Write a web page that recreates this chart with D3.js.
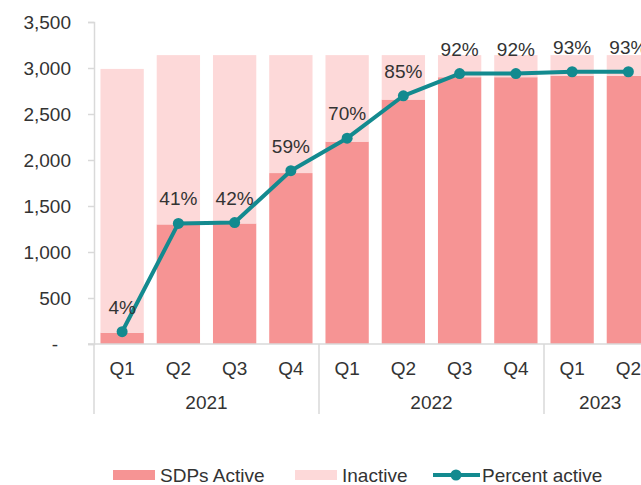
<!DOCTYPE html>
<html>
<head>
<meta charset="utf-8">
<script src="https://cdn.jsdelivr.net/npm/d3@7"></script>
<style>
    body { margin: 0; background: #fff; }
    svg { display: block; font-family: "Liberation Sans", Arial, sans-serif; }
</style>
</head>
<body>
<svg id="chart"></svg>
<script>
// Data
const quarters = ["Q1", "Q2", "Q3", "Q4", "Q1", "Q2", "Q3", "Q4", "Q1", "Q2"];
const years = ["2021", "2021", "2021", "2021", "2022", "2022", "2022", "2022", "2023", "2023"];
const active = [123, 1300, 1310, 1858, 2200, 2657, 2900, 2900, 2915, 2915];
const inactive = [2867, 1840, 1830, 1282, 940, 483, 240, 240, 225, 225];
const percentActive = [0.042, 0.412, 0.415, 0.592, 0.703, 0.848, 0.924, 0.924, 0.93, 0.93];
const yTicks = [0, 500, 1000, 1500, 2000, 2500, 3000, 3500];

const colors = {
    active: "#F69494",
    inactive: "#FDD9D9",
    line: "#138A8F",
    axis: "#D9D9D9",
    text: "#333333",
};

const width = 641;
const height = 485;
const svg = d3.select("#chart").attr("width", width).attr("height", height);

const keys = quarters.map((q, i) => years[i] + "-" + q);
const rows = keys.map((k, i) => ({ key: k, active: active[i], inactive: inactive[i], pct: percentActive[i] }));

// Scales
const x = d3.scaleBand().domain(keys).range([94, 656.5]).paddingInner(0.23).paddingOuter(0.115);
const y = d3.scaleLinear().domain([0, 3500]).range([344, 22]);
const yPct = d3.scaleLinear().domain([0, 1.1]).range([344, 22]);

// Stacked bars
const stack = d3.stack().keys(["active", "inactive"])(rows);
svg.append("g")
    .selectAll("g")
    .data(stack)
    .join("g")
    .attr("fill", (d) => colors[d.key])
    .selectAll("rect")
    .data((d) => d)
    .join("rect")
    .attr("x", (d) => x(d.data.key))
    .attr("width", x.bandwidth())
    .attr("y", (d) => y(d[1]))
    .attr("height", (d) => y(d[0]) - y(d[1]));

// Y axis
const yAxis = svg.append("g")
    .attr("transform", "translate(94,0)")
    .call(d3.axisLeft(y).tickValues(yTicks).tickSize(6).tickPadding(17)
        .tickFormat((d) => (d === 0 ? "-" : d3.format(",")(d))));
yAxis.select(".domain").attr("stroke", colors.axis).attr("stroke-width", 1.5);
yAxis.selectAll(".tick line").attr("stroke", colors.axis).attr("stroke-width", 1.5);
yAxis.selectAll(".tick text")
    .attr("fill", colors.text)
    .attr("font-size", 19)
    .attr("dx", (d) => (d === 0 ? -13 : 0));

// X axis baseline
svg.append("line")
    .attr("x1", 88).attr("x2", width)
    .attr("y1", y(0)).attr("y2", y(0))
    .attr("stroke", colors.axis).attr("stroke-width", 1.5);

// Quarter labels
svg.append("g")
    .selectAll("text")
    .data(rows)
    .join("text")
    .attr("x", (d) => x(d.key) + x.bandwidth() / 2)
    .attr("y", 375)
    .attr("text-anchor", "middle")
    .attr("fill", colors.text)
    .attr("font-size", 19)
    .text((d, i) => quarters[i]);

// Year groups
const yearGroups = d3.groups(keys, (k) => k.split("-")[0]).map(([yr, ks]) => ({
    year: yr,
    x0: x(ks[0]) - (x.step() * x.paddingInner()) / 2,
    x1: x(ks[ks.length - 1]) + x.bandwidth() + (x.step() * x.paddingInner()) / 2,
}));

svg.append("g")
    .selectAll("line")
    .data(yearGroups)
    .join("line")
    .attr("x1", (d) => d.x0).attr("x2", (d) => d.x0)
    .attr("y1", y(0)).attr("y2", 414)
    .attr("stroke", colors.axis).attr("stroke-width", 1.5);

svg.append("g")
    .selectAll("text")
    .data(yearGroups)
    .join("text")
    .attr("x", (d) => (d.x0 + d.x1) / 2)
    .attr("y", 409)
    .attr("text-anchor", "middle")
    .attr("fill", colors.text)
    .attr("font-size", 19)
    .text((d) => d.year);

// Percent line
const cx = (d) => x(d.key) + x.bandwidth() / 2;
svg.append("path")
    .datum(rows)
    .attr("fill", "none")
    .attr("stroke", colors.line)
    .attr("stroke-width", 4)
    .attr("stroke-linejoin", "round")
    .attr("d", d3.line().x(cx).y((d) => yPct(d.pct)));

svg.append("g")
    .selectAll("circle")
    .data(rows)
    .join("circle")
    .attr("cx", cx)
    .attr("cy", (d) => yPct(d.pct))
    .attr("r", 5.5)
    .attr("fill", colors.line);

svg.append("g")
    .selectAll("text")
    .data(rows)
    .join("text")
    .attr("x", cx)
    .attr("y", (d) => yPct(d.pct) - 18)
    .attr("text-anchor", "middle")
    .attr("fill", colors.text)
    .attr("font-size", 19)
    .text((d) => d3.format(".0%")(d.pct));

// Legend
const legend = svg.append("g").attr("font-size", 19).attr("fill", colors.text);
legend.append("rect").attr("x", 113).attr("y", 470).attr("width", 42).attr("height", 10).attr("fill", colors.active);
legend.append("text").attr("x", 160).attr("y", 482).text("SDPs Active");
legend.append("rect").attr("x", 295).attr("y", 470).attr("width", 42).attr("height", 10).attr("fill", colors.inactive);
legend.append("text").attr("x", 342).attr("y", 482).text("Inactive");
legend.append("line").attr("x1", 433).attr("x2", 480).attr("y1", 475).attr("y2", 475)
    .attr("stroke", colors.line).attr("stroke-width", 4);
legend.append("circle").attr("cx", 456).attr("cy", 475).attr("r", 5.5).attr("fill", colors.line);
legend.append("text").attr("x", 482).attr("y", 482).text("Percent active");
</script>
</body>
</html>
